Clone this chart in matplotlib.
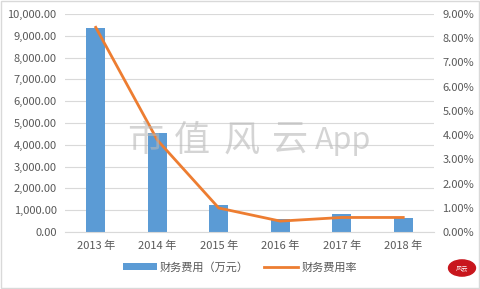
import matplotlib
matplotlib.use("Agg")
import matplotlib.pyplot as plt
from matplotlib.ticker import FuncFormatter
from matplotlib.patches import Circle, Rectangle

plt.rcParams['font.family'] = ['Noto Sans CJK SC', 'DejaVu Sans']

years = ['2013 年', '2014 年', '2015 年', '2016 年', '2017 年', '2018 年']
expense = [9350, 4550, 1250, 600, 830, 640]
rate = [8.45, 3.8, 0.99, 0.45, 0.6, 0.6]
left_ticks = [0, 1000, 2000, 3000, 4000, 5000, 6000, 7000, 8000, 9000, 10000]
right_ticks = [0, 1, 2, 3, 4, 5, 6, 7, 8, 9]

bar_color = '#5B9BD5'
line_color = '#ED7D31'
text_color = '#595959'

fig = plt.figure(figsize=(4.81, 2.89), dpi=100)
ax = fig.add_axes([65/481, 1-232/289, (434-65)/481, (232-14)/289])
x = list(range(len(years)))
ax.bar(x, expense, width=0.31, color=bar_color, zorder=2, label='财务费用（万元）')
ax.set_xlim(-0.5, len(years)-0.5)
ax.set_ylim(0, 10000)
ax.set_yticks(left_ticks)
ax.yaxis.set_major_formatter(FuncFormatter(lambda v, p: f'{v:,.2f}'))
ax.set_xticks(x)
ax.set_xticklabels(years)
ax.grid(axis='y', color='#D9D9D9', linewidth=0.8, zorder=0)
for s in ['top', 'right', 'left']:
    ax.spines[s].set_visible(False)
ax.spines['bottom'].set_color('#D9D9D9')
ax.tick_params(length=0, labelsize=8, colors=text_color, pad=6)

ax2 = ax.twinx()
ax2.plot(x, rate, color=line_color, linewidth=2, zorder=3, label='财务费用率')
ax2.set_ylim(0, 9)
ax2.set_yticks(right_ticks)
ax2.yaxis.set_major_formatter(FuncFormatter(lambda v, p: f'{v:.2f}%'))
for s in ['top', 'right', 'left', 'bottom']:
    ax2.spines[s].set_visible(False)
ax2.tick_params(length=0, labelsize=8, colors=text_color, pad=6)

h1, l1 = ax.get_legend_handles_labels()
h2, l2 = ax2.get_legend_handles_labels()
fig.legend(h1 + h2, l1 + l2, loc='center', bbox_to_anchor=(240/481, 1-267/289),
           ncol=2, frameon=False, fontsize=8, labelcolor=text_color,
           handlelength=3.0, handleheight=0.6, columnspacing=1.4, handletextpad=0.3)

wm_chars = ['市', '值', '风', '云', 'App']
wm_x = [145, 192, 242, 290, 343]
wm_size = [26, 26, 26, 26, 22]
for ch, cx, fs in zip(wm_chars, wm_x, wm_size):
    fig.text(cx/481, 1-141/289, ch, fontsize=fs, color='#B8B8B8', alpha=0.6,
             ha='center', va='center', zorder=10, fontweight='light')

fig.patches.append(Rectangle((0.002, 0.003), 0.994, 0.993, transform=fig.transFigure,
                             fill=False, edgecolor='#D9D9D9', linewidth=1))
fig.patches.append(Circle((462/481, 1-268/289), 0.028, transform=fig.transFigure,
                          color='#C8161D'))
fig.text(462/481, 1-268/289, '风云', fontsize=4.5, color='white', ha='center', va='center')

fig.savefig('out.png', dpi=100)
